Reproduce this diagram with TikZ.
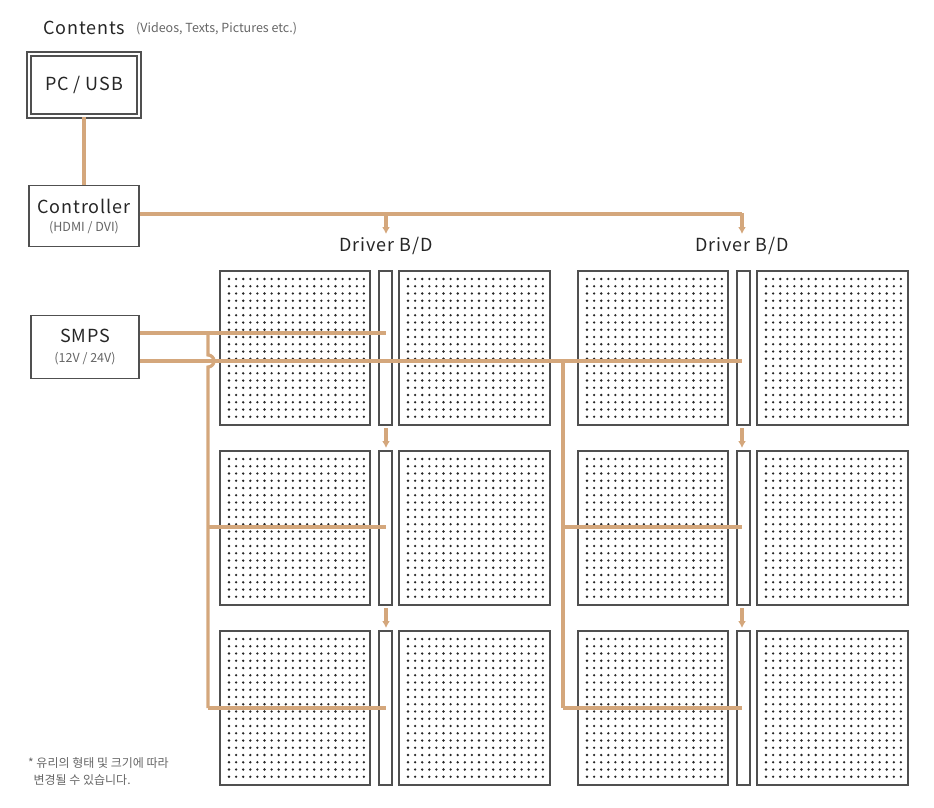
\documentclass[tikz,border=0pt]{standalone}
\usepackage{fontspec}
\setmainfont{Noto Sans CJK KR}
\usetikzlibrary{arrows.meta}
\begin{document}
\begin{tikzpicture}[x=1pt,y=-1pt,
  wire/.style={draw=wirec,line width=3.2pt},
  box/.style={draw=boxc,line width=1.8pt,fill=white},
  arr/.style={wire,-{Latex[length=7pt,width=8pt]}},
  lbl/.style={inner sep=0pt,text=black!85},
  big/.style={lbl,font=\fontsize{18}{20}\selectfont\addfontfeature{LetterSpace=5}},
  small/.style={lbl,text=black!60,font=\fontsize{12.5}{14}\selectfont}]
\definecolor{wirec}{HTML}{D4A77C}
\definecolor{boxc}{HTML}{505050}
\useasboundingbox (0,0) rectangle (934,808);
% text
\node[big,anchor=west] (ct) at (43,28) {Contents};
\node[small,anchor=west] (cts) at (136,29) {(Videos, Texts, Pictures etc.)};
% boxes
\node[box,minimum width=110pt,minimum height=62pt,double=white,double distance=2.5pt] (pc) at (84,85) {};
\node[big] (pct) at (84,85) {PC / USB};
\node[box,minimum width=110pt,minimum height=61pt] (ctrl) at (84,216) {};
\node[big] at (84,206) {Controller};
\node[small] at (84,228) {(HDMI / DVI)};
\node[box,minimum width=108pt,minimum height=63pt] (smps) at (85,347) {};
\node[big] at (85,336) {SMPS};
\node[small] at (85,359) {(12V / 24V)};
\draw[wire] (pc.south) -- (ctrl.north);
% panels
\foreach \gx/\s in {220/L,578/R}{
  \foreach \gy/\r in {271/1,451/2,631/3}{
    \pgfmathsetmacro{\sx}{\gx+159}
    \pgfmathsetmacro{\bx}{\gx+179}
    \draw[box] (\gx,\gy) rectangle ++(150,154);
    \draw[box] (\sx,\gy) rectangle ++(13,154);
    \draw[box] (\bx,\gy) rectangle ++(151,154);
    \foreach \px in {\gx,\bx}{
      \foreach \i in {0,...,19}{
        \foreach \j in {0,...,19}{
          \fill[black!85] (\px+9+\i*7.1,\gy+8+\j*7.25) circle (1.3pt);
        }}}
  }}
% signal
\coordinate (d1) at (386,234);
\coordinate (d2) at (742,234);
\draw[wire] (ctrl.east |- 0,214) -- (742,214);
\draw[arr] (386,213) -- (d1);
\draw[arr] (742,213) -- (d2);
\node[big] at (386,246) {Driver B/D};
\node[big] at (742,246) {Driver B/D};
\foreach \x in {386,742}{
  \draw[arr] (\x,428) -- (\x,448);
  \draw[arr] (\x,608) -- (\x,628);
}
% power
\draw[wire] (smps.east |- 0,333) -- (386,333);
\draw[wire] (smps.east |- 0,361) -- (742,361);
\draw[wire] (208,333) -- (208,355) arc[start angle=90,end angle=-90,radius=6pt] -- (208,708);
\draw[wire] (208,527) -- (386,527);
\draw[wire] (208,708) -- (386,708);
\draw[wire] (563,361) -- (563,708);
\draw[wire] (563,527) -- (742,527);
\draw[wire] (563,708) -- (742,708);
% footnote
\node[lbl,anchor=west,text=black!60,font=\fontsize{12}{17}\selectfont,align=left] at (28,771) {* 유리의 형태 및 크기에 따라\\\ \ 변경될 수 있습니다.};
\end{tikzpicture}
\end{document}
